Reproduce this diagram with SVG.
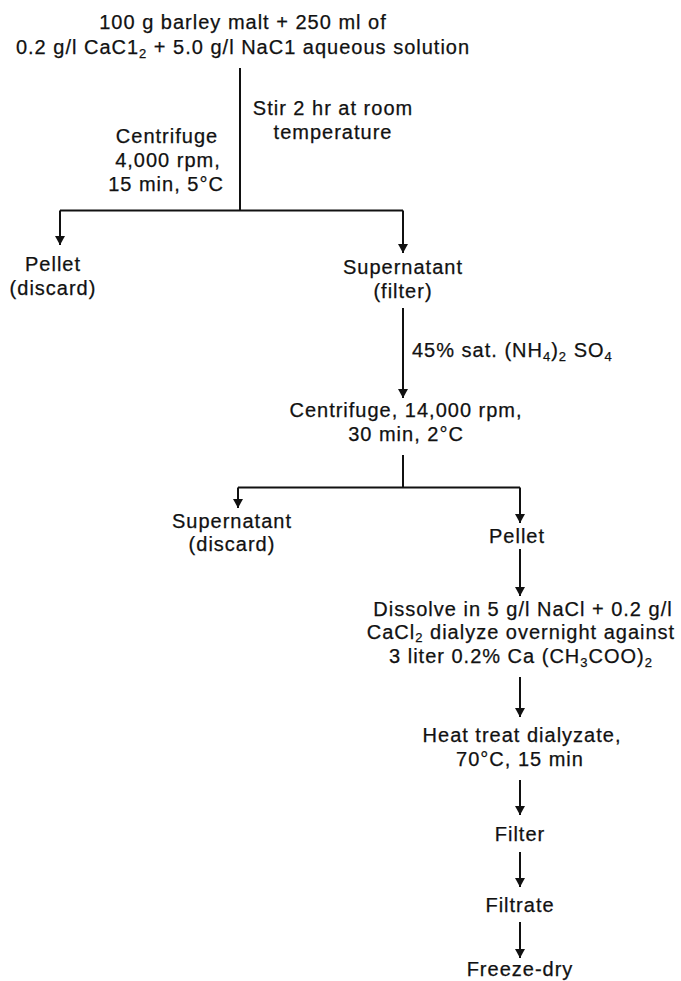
<svg xmlns="http://www.w3.org/2000/svg" width="681" height="981" viewBox="0 0 681 981">
<defs>
<marker id="ah" markerUnits="userSpaceOnUse" markerWidth="10" markerHeight="10" refX="9" refY="5" orient="auto">
<path d="M0,0 L9,5 L0,10 z" fill="#111"/>
</marker>
<style>
text{font-family:"Liberation Sans",Arial,Helvetica,sans-serif;font-size:20px;letter-spacing:1px;fill:#111;stroke:#111;stroke-width:0.25;text-anchor:middle}
.l{text-anchor:start}
.sub{font-size:13px}
.c path{fill:none;stroke:#111;stroke-width:2}
.a{marker-end:url(#ah)}
</style>
</defs>
<rect width="681" height="981" fill="#fff"/>
<g id="start">
<text x="243" y="29">100 g barley malt + 250 ml of</text>
<text x="243" y="53.5">0.2 g/l CaC1<tspan class="sub" dy="4">2</tspan><tspan dy="-4"> + 5.0 g/l NaC1 aqueous solution</tspan></text>
</g>
<g id="stir"><text x="333" y="115">Stir 2 hr at room</text><text x="333" y="139">temperature</text></g>
<g id="centrifuge1"><text x="167" y="143">Centrifuge</text><text x="168" y="167">4,000 rpm,</text><text x="166" y="191">15 min, 5°C</text></g>
<g id="pellet1"><text x="53" y="271">Pellet</text><text x="53" y="295">(discard)</text></g>
<g id="supernatant1"><text x="403" y="274">Supernatant</text><text x="403" y="298">(filter)</text></g>
<g id="ammonium"><text class="l" x="412" y="357">45% sat. (NH<tspan class="sub" dy="4">4</tspan><tspan dy="-4">)</tspan><tspan class="sub" dy="4">2</tspan><tspan dy="-4"> SO</tspan><tspan class="sub" dy="4">4</tspan></text></g>
<g id="centrifuge2"><text x="406" y="417">Centrifuge, 14,000 rpm,</text><text x="406" y="441">30 min, 2°C</text></g>
<g id="supernatant2"><text x="232" y="528">Supernatant</text><text x="232" y="551">(discard)</text></g>
<g id="pellet2"><text x="517" y="543">Pellet</text></g>
<g id="dissolve">
<text x="523" y="616">Dissolve in 5 g/l NaCl + 0.2 g/l</text>
<text x="521" y="639">CaCl<tspan class="sub" dy="3">2</tspan><tspan dy="-3"> dialyze overnight against</tspan></text>
<text x="521" y="663">3 liter 0.2% Ca (CH<tspan class="sub" dy="4">3</tspan><tspan dy="-4">COO)</tspan><tspan class="sub" dy="4">2</tspan></text>
</g>
<g id="heat"><text x="522" y="742">Heat treat dialyzate,</text><text x="520" y="766">70°C, 15 min</text></g>
<g id="filter"><text x="520" y="841">Filter</text></g>
<g id="filtrate"><text x="520" y="912">Filtrate</text></g>
<g id="freezedry"><text x="520" y="976">Freeze-dry</text></g>
<g id="connectors" class="c">
<path d="M240,68 V210.5"/>
<path d="M60,210.5 H403"/>
<path class="a" d="M60,210.5 V245"/>
<path class="a" d="M403,210.5 V253"/>
<path class="a" d="M403,308 V398"/>
<path d="M403,455 V487.5"/>
<path d="M238,487.5 H520"/>
<path class="a" d="M238,487.5 V508"/>
<path class="a" d="M520,487.5 V523"/>
<path class="a" d="M520,549 V596"/>
<path class="a" d="M520,677 V717"/>
<path class="a" d="M520,780 V815"/>
<path class="a" d="M520,852 V887"/>
<path class="a" d="M520,922 V958"/>
</g>
</svg>
